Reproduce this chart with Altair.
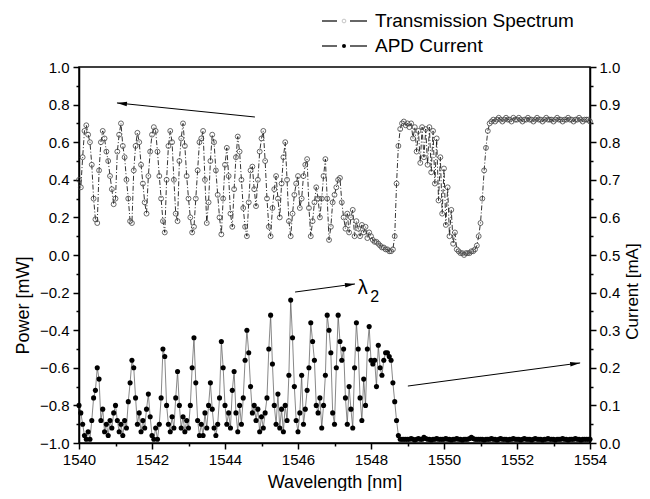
import altair as alt
import pandas as pd
import numpy as np

# ---------------- data ----------------
WL_START = 1540.0   # nm, first sample
WL_STEP = 0.05      # nm, sample spacing

# Transmission spectrum, power [mW] (left axis)
power_mw = [
    .40, .36, .52, .66, .69, .64, .60, .48, .30, .19,
    .17, .45, .60, .66, .62, .55, .50, .42, .35, .27,
    .30, .55, .64, .70, .58, .52, .40, .30, .18, .17,
    .45, .58, .65, .60, .48, .38, .28, .22, .42, .55,
    .64, .68, .66, .55, .42, .30, .18, .12, .40, .58,
    .66, .60, .40, .22, .18, .50, .62, .70, .58, .42,
    .30, .20, .12, .15, .30, .45, .60, .62, .66, .40,
    .17, .28, .50, .64, .60, .45, .32, .20, .11, .30,
    .48, .57, .42, .22, .15, .35, .52, .63, .55, .40,
    .25, .15, .10, .28, .45, .47, .35, .26, .40, .55,
    .62, .66, .50, .30, .15, .10, .25, .35, .42, .30,
    .20, .38, .52, .60, .40, .18, .10, .22, .32, .38,
    .42, .25, .30, .42, .48, .51, .25, .10, .18, .28,
    .36, .30, .20, .30, .42, .51, .30, .08, .15, .28,
    .32, .36, .40, .41, .28, .20, .14, .22, .12, .20,
    .24, .10, .18, .14, .10, .16, .12, .15, .09, .12,
    .10, .08, .07, .07, .06, .05, .04, .04, .03, .03,
    .02, .02, .03, .10, .38, .58, .67, .70, .71, .69,
    .70, .68, .70, .62, .68, .55, .66, .49, .68, .52,
    .67, .48, .68, .44, .66, .38, .62, .29, .52, .22,
    .46, .16, .36, .10, .24, .06, .12, .03, .02, .01,
    .01, .00, .01, .01, .01, .02, .02, .03, .05, .10,
    .17, .30, .45, .57, .66, .70, .71, .72, .71, .72,
    .73, .72, .71, .72, .73, .72, .72, .71, .73, .72,
    .72, .73, .72, .71, .72, .72, .73, .72, .72, .71,
    .72, .73, .72, .72, .71, .72, .73, .72, .72, .72,
    .71, .72, .73, .72, .72, .71, .72, .72, .73, .72,
    .72, .71, .72, .72, .73, .72, .71, .72, .72, .72,
    .71,
]

# APD current [mA] (right axis)
current_ma = [
    .10, .08, .05, .02, .01, .03, .01, .06, .12, .14,
    .20, .17, .06, .09, .03, .05, .02, .06, .04, .08,
    .10, .06, .03, .05, .02, .06, .04, .11, .16, .22,
    .20, .12, .05, .08, .03, .06, .04, .09, .13, .07,
    .02, .01, .04, .01, .05, .12, .25, .23, .10, .05,
    .03, .07, .04, .12, .19, .10, .04, .07, .03, .06,
    .04, .10, .20, .28, .16, .06, .02, .05, .02, .08,
    .04, .10, .16, .09, .04, .02, .05, .12, .27, .20,
    .10, .05, .08, .04, .14, .19, .08, .03, .10, .05,
    .12, .22, .30, .24, .15, .08, .10, .06, .09, .03,
    .07, .04, .08, .12, .25, .34, .21, .10, .05, .13,
    .04, .09, .03, .10, .06, .18, .38, .28, .15, .06,
    .03, .08, .18, .05, .09, .14, .20, .32, .27, .22,
    .10, .08, .12, .04, .10, .18, .34, .30, .24, .08,
    .05, .20, .34, .27, .22, .25, .12, .05, .15, .09,
    .04, .20, .32, .25, .12, .06, .17, .10, .25, .31,
    .22, .21, .22, .15, .26, .20, .18, .22, .24, .24,
    .23, .22, .16, .11, .06, .02, .01, .01, .01, .01,
    .010, .010, .012, .010, .008, .010, .012, .010, .010, .015,
    .012, .010, .010, .008, .010, .010, .012, .010, .010, .010,
    .010, .012, .010, .010, .008, .010, .010, .012, .010, .010,
    .008, .010, .010, .010, .012, .015, .012, .010, .010, .010,
    .010, .010, .008, .010, .010, .010, .012, .010, .010, .008,
    .010, .012, .010, .010, .010, .008, .010, .010, .012, .010,
    .010, .010, .008, .010, .012, .010, .010, .010, .008, .010,
    .012, .010, .010, .010, .008, .010, .010, .012, .010, .010,
    .010, .008, .010, .010, .010, .012, .010, .010, .008, .010,
    .010, .010, .012, .010, .010, .008, .010, .010, .010, .010,
    .010,
]

# annotation arrows (wavelength, power-axis units)
arrow_x0 = [1544.82, 1545.92, 1549.01]
arrow_y0 = [0.734, -0.197, -0.697]
arrow_x1 = [1541.04, 1547.56, 1553.73]
arrow_y1 = [0.809, -0.154, -0.574]
arrow_angle = [185.8, 352.4, 352.4]

lambda_x = [1547.64]
lambda_y = [-0.205]
sub_x = [1547.98]
sub_y = [-0.25]

# ---------------- tables ----------------
power_df = pd.DataFrame({
    "wl": np.round(WL_START + WL_STEP * np.arange(len(power_mw)), 3),
    "p": power_mw,
})
current_df = pd.DataFrame({
    "wl": np.round(WL_START + WL_STEP * np.arange(len(current_ma)), 3),
    "c": current_ma,
})
arrows_df = pd.DataFrame({"x0": arrow_x0, "y0": arrow_y0, "x1": arrow_x1,
                          "y1": arrow_y1, "ang": arrow_angle})
lam_df = pd.DataFrame({"x": lambda_x, "y": lambda_y})
sub_df = pd.DataFrame({"x": sub_x, "y": sub_y})

FONT = "Liberation Sans"

common = dict(
    domainColor="black", domainWidth=1.5, tickColor="black", tickWidth=1.5,
    labelFont=FONT, labelFontSize=15, labelColor="black",
    titleFont=FONT, titleFontWeight="normal", titleColor="black",
    grid=False, labelOverlap=False, labelFlush=False, labelBound=False,
)

x_scale = alt.Scale(domain=[1540, 1554], nice=False, zero=False)
p_scale = alt.Scale(domain=[-1, 1], nice=False, zero=False)
c_scale = alt.Scale(domain=[0, 1], nice=False, zero=False)

x_axis = alt.Axis(
    title="Wavelength [nm]", values=list(range(1540, 1555)), format="d",
    labelExpr="datum.value % 2 == 0 ? datum.label : ''",
    tickSize={"condition": {"test": "datum.value % 2 == 0", "value": 6}, "value": 3},
    labelPadding=3, titleY=44, titleBaseline="alphabetic", titleFontSize=18, **common)

p_axis = alt.Axis(
    title="Power [mW]", orient="left",
    values=[round(v / 10, 1) for v in range(-10, 11)],
    labelExpr="abs(round(datum.value*10)) % 2 == 0 ? format(datum.value, '.1f') : ''",
    tickSize={"condition": {"test": "abs(round(datum.value*10)) % 2 == 0", "value": 6}, "value": 3},
    labelPadding=4, titleAngle=270, titleX=-56, titleY=238, titleFontSize=18,
    titleAlign="center", titleBaseline="middle", **common)

c_axis = alt.Axis(
    title="Current [mA]", orient="right",
    values=[round(v * 0.05, 2) for v in range(0, 21)],
    labelExpr="round(datum.value*20) % 2 == 0 ? format(datum.value, '.1f') : ''",
    tickSize={"condition": {"test": "round(datum.value*20) % 2 == 0", "value": 6}, "value": 3},
    labelPadding=3, titleAngle=270, titleX=42, titleY=224, titleFontSize=17,
    titleAlign="center", titleBaseline="middle", **common)

X = alt.X("wl:Q", scale=x_scale, axis=x_axis)

power_line = alt.Chart(power_df).mark_line(
    color="black", strokeWidth=0.8, strokeDash=[5, 2, 1, 2]
).encode(x=X, y=alt.Y("p:Q", scale=p_scale, axis=p_axis))

power_pts = alt.Chart(power_df).mark_point(
    shape="circle", filled=False, size=24, color="#444", strokeWidth=0.8, opacity=1
).encode(x=X, y=alt.Y("p:Q", scale=p_scale, axis=p_axis))

arrows = alt.Chart(arrows_df).mark_rule(color="black", strokeWidth=1).encode(
    x=alt.X("x0:Q", scale=x_scale, axis=x_axis),
    y=alt.Y("y0:Q", scale=p_scale, axis=p_axis),
    x2="x1:Q", y2="y1:Q")

heads = alt.Chart(arrows_df).mark_point(
    shape="M0,0 L-2,-0.45 L-2,0.45 Z", filled=True, size=100, color="black", opacity=1
).encode(
    x=alt.X("x1:Q", scale=x_scale, axis=x_axis),
    y=alt.Y("y1:Q", scale=p_scale, axis=p_axis),
    angle=alt.Angle("ang:Q", scale=None))

lam = alt.Chart(lam_df).mark_text(
    text="λ", align="left", baseline="alphabetic", font=FONT, fontSize=20, color="black"
).encode(x=alt.X("x:Q", scale=x_scale, axis=x_axis), y=alt.Y("y:Q", scale=p_scale, axis=p_axis))

sub = alt.Chart(sub_df).mark_text(
    text="2", align="left", baseline="alphabetic", font=FONT, fontSize=16, color="black"
).encode(x=alt.X("x:Q", scale=x_scale, axis=x_axis), y=alt.Y("y:Q", scale=p_scale, axis=p_axis))

one = alt.Data(values=[{}])

def dash(x0, x1, yy):
    return alt.Chart(one).mark_rule(color="black", strokeWidth=1.2).encode(
        x=alt.value(x0), x2=alt.value(x1), y=alt.value(yy))

leg = [
    dash(243, 258, -46), dash(271, 288, -46),
    alt.Chart(one).mark_point(shape="circle", filled=False, size=14, color="#999",
                              strokeWidth=0.8).encode(x=alt.value(265), y=alt.value(-46)),
    alt.Chart(one).mark_text(text="Transmission Spectrum", align="left", baseline="alphabetic",
                             font=FONT, fontSize=19, color="black").encode(
        x=alt.value(296), y=alt.value(-40)),
    dash(243, 258, -21), dash(271, 288, -21),
    alt.Chart(one).mark_circle(size=16, color="black", opacity=1).encode(
        x=alt.value(265), y=alt.value(-21)),
    alt.Chart(one).mark_text(text="APD Current", align="left", baseline="alphabetic",
                             font=FONT, fontSize=19, color="black").encode(
        x=alt.value(296), y=alt.value(-15)),
]

curr_line = alt.Chart(current_df).mark_line(color="#555", strokeWidth=0.7).encode(
    x=X, y=alt.Y("c:Q", scale=c_scale, axis=c_axis))
curr_pts = alt.Chart(current_df).mark_circle(size=26, color="black", opacity=1).encode(
    x=X, y=alt.Y("c:Q", scale=c_scale, axis=c_axis))

left = alt.layer(power_line, power_pts, arrows, heads, lam, sub, *leg)
right = alt.layer(curr_line, curr_pts)

chart = alt.layer(left, right).resolve_scale(y="independent").properties(
    width=511, height=376,
    autosize=alt.AutoSizeParams(type="none"),
    padding={"left": 71, "top": 59, "right": 52, "bottom": 48},
).configure_view(stroke="black", strokeWidth=1.5)

chart.save("out.html", embed_options={"renderer": "svg", "actions": False})
